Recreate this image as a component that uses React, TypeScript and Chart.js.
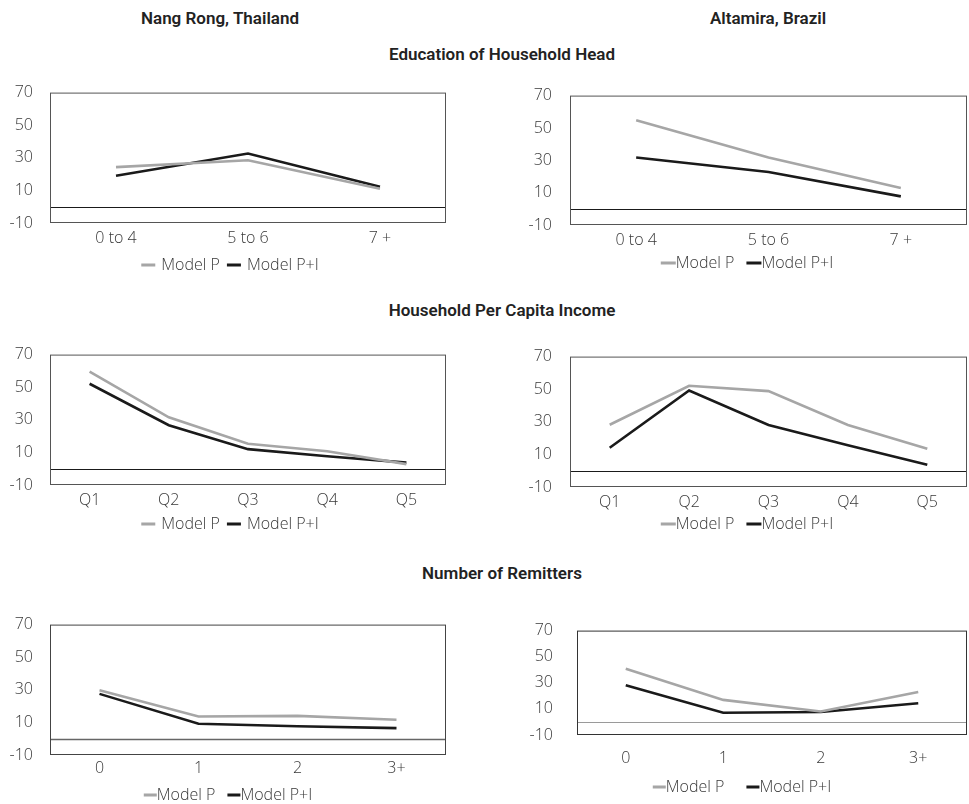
import React, { useEffect, useRef } from "react";
import { Chart, registerables } from "chart.js";
Chart.register(...registerables);

// ---------- data ----------
const eduCategories = ["0 to 4", "5 to 6", "7 +"];
const incomeCategories = ["Q1", "Q2", "Q3", "Q4", "Q5"];
const remitCategories = ["0", "1", "2", "3+"];
const yTicks = [-10, 10, 30, 50, 70];
const seriesLabels = ["Model P", "Model P+I"];

const nangRongEduP = [24.3, 28.5, 11];
const nangRongEduPI = [19, 32.6, 12.3];
const altamiraEduP = [54.7, 31.7, 12.9];
const altamiraEduPI = [31.7, 22.8, 7.7];

const nangRongIncP = [59.5, 31.5, 15.3, 10.7, 2.8];
const nangRongIncPI = [52.1, 26.7, 12, 7.6, 3.7];
const altamiraIncP = [28.2, 52.1, 48.8, 28, 13.4];
const altamiraIncPI = [14.1, 49.2, 28, 15.6, 3.7];

const nangRongRemP = [29.7, 13.6, 14, 11.6];
const nangRongRemPI = [27.5, 9.2, 7.6, 6.5];
const altamiraRemP = [40.8, 16.9, 8, 22.9];
const altamiraRemPI = [28.1, 7, 7.6, 14.3];

// ---------- styles ----------
const FONT = "'Open Sans', 'DejaVu Sans', sans-serif";
const TITLE_FONT = "Roboto, 'Open Sans', sans-serif";
const GRAY = "#a6a6a6";
const BLACK = "#1a1a1a";
const TEXT = "#383838";
const TICK_SIZE = 16;
const TICK_WEIGHT = 300;

type Leg = { cx: number; dy: number; line: number; gap: number; itemGap: number };
type Panel = {
  x0: number; w: number; yw: number; top: number; bottom: number;
  yPad: number; xPad: number; labels: string[]; p: number[]; pi: number[];
  zeroColor: string; zeroWidth: number; frameColor: string; leg: Leg;
};

const PAD_TOP = 12;
const XH = 30;
const EXTRA = 62;

function PanelChart({ cfg }: { cfg: Panel }) {
  const ref = useRef<HTMLCanvasElement>(null);
  const height = cfg.bottom - cfg.top + PAD_TOP + EXTRA;
  useEffect(() => {
    const canvas = ref.current!;
    const boxPlugin = {
      id: "boxZero",
      beforeDatasetsDraw(chart: any) {
        const { ctx, chartArea: a, scales } = chart;
        ctx.save();
        const y0 = Math.round(scales.y.getPixelForValue(0)) + 0.5;
        ctx.strokeStyle = cfg.zeroColor;
        ctx.lineWidth = cfg.zeroWidth;
        ctx.beginPath();
        ctx.moveTo(a.left, y0);
        ctx.lineTo(a.right, y0);
        ctx.stroke();
        ctx.strokeStyle = cfg.frameColor;
        ctx.lineWidth = 1;
        ctx.strokeRect(a.left + 0.5, a.top + 0.5, a.right - a.left - 1, a.bottom - a.top - 1);
        ctx.restore();
      },
    };
    const legendPlugin = {
      id: "lineLegend",
      afterDraw(chart: any) {
        const ctx = chart.ctx;
        ctx.save();
        ctx.font = `${TICK_WEIGHT} ${TICK_SIZE}px ${FONT}`;
        const items = chart.data.datasets.map((ds: any) => ({
          text: ds.label,
          color: ds.borderColor,
          w: ctx.measureText(ds.label).width,
        }));
        const L = cfg.leg;
        const total =
          items.reduce((s: number, it: any) => s + L.line + L.gap + it.w, 0) +
          L.itemGap * (items.length - 1);
        let x = L.cx - cfg.x0 - total / 2;
        const y = chart.chartArea.bottom + L.dy;
        items.forEach((it: any) => {
          ctx.fillStyle = it.color;
          ctx.fillRect(x, y - 1.5, L.line, 3);
          x += L.line + L.gap;
          ctx.fillStyle = TEXT;
          ctx.textBaseline = "middle";
          ctx.textAlign = "left";
          ctx.fillText(it.text, x, y);
          x += it.w + L.itemGap;
        });
        ctx.restore();
      },
    };
    const tickFont = { family: FONT, size: TICK_SIZE, weight: TICK_WEIGHT as any };
    const chart = new Chart(canvas, {
      type: "line",
      data: {
        labels: cfg.labels,
        datasets: [
          { label: seriesLabels[0], data: cfg.p, borderColor: GRAY, backgroundColor: GRAY, borderWidth: 2.6, pointRadius: 0, tension: 0 },
          { label: seriesLabels[1], data: cfg.pi, borderColor: BLACK, backgroundColor: BLACK, borderWidth: 2.6, pointRadius: 0, tension: 0 },
        ],
      },
      options: {
        animation: false,
        responsive: false,
        maintainAspectRatio: false,
        layout: { padding: { left: 0, top: PAD_TOP, right: 2, bottom: EXTRA - XH } },
        plugins: { legend: { display: false }, tooltip: { enabled: false }, title: { display: false } },
        scales: {
          x: {
            type: "category",
            offset: true,
            grid: { display: false, drawTicks: false },
            border: { display: false },
            ticks: { padding: cfg.xPad, color: TEXT, font: tickFont, maxRotation: 0 },
            afterFit: (s: any) => { s.height = XH; },
          },
          y: {
            min: -10,
            max: 70,
            grid: { display: false, drawTicks: false },
            border: { display: false },
            ticks: { padding: cfg.yPad, color: TEXT, font: tickFont },
            afterBuildTicks: (s: any) => { s.ticks = yTicks.map((v) => ({ value: v })); },
            afterFit: (s: any) => { s.width = cfg.yw; },
          },
        },
      },
      plugins: [boxPlugin, legendPlugin],
    });
    return () => chart.destroy();
  }, []);
  return (
    <canvas
      ref={ref}
      width={cfg.w}
      height={height}
      style={{ position: "absolute", left: cfg.x0, top: cfg.top - PAD_TOP, width: cfg.w, height }}
    />
  );
}

const legA = (cx: number, dy: number): Leg => ({ cx, dy, line: 14, gap: 6, itemGap: 7 });
const legB = (cx: number, dy: number): Leg => ({ cx, dy, line: 15, gap: 0, itemGap: 12 });

const panels: Panel[] = [
  { x0: 0, w: 448, yw: 50, top: 78, bottom: 223, yPad: 17, xPad: 6, labels: eduCategories, p: nangRongEduP, pi: nangRongEduPI, zeroColor: "#1a1a1a", zeroWidth: 1, frameColor: "#555", leg: legA(230, 42) },
  { x0: 480, w: 489, yw: 90, top: 80, bottom: 225, yPad: 18, xPad: 6, labels: eduCategories, p: altamiraEduP, pi: altamiraEduPI, zeroColor: "#1a1a1a", zeroWidth: 1, frameColor: "#555", leg: legB(747, 38) },
  { x0: 0, w: 448, yw: 50, top: 340, bottom: 485, yPad: 17, xPad: 6, labels: incomeCategories, p: nangRongIncP, pi: nangRongIncPI, zeroColor: "#1a1a1a", zeroWidth: 1, frameColor: "#555", leg: legA(230, 39) },
  { x0: 480, w: 489, yw: 90, top: 341, bottom: 487, yPad: 18, xPad: 6, labels: incomeCategories, p: altamiraIncP, pi: altamiraIncPI, zeroColor: "#1a1a1a", zeroWidth: 1, frameColor: "#555", leg: legB(747, 37) },
  { x0: 0, w: 448, yw: 50, top: 610, bottom: 755, yPad: 17, xPad: 4, labels: remitCategories, p: nangRongRemP, pi: nangRongRemPI, zeroColor: "#666", zeroWidth: 1.5, frameColor: "#444", leg: { cx: 228, dy: 40, line: 13, gap: 0, itemGap: 12 } },
  { x0: 480, w: 489, yw: 97, top: 609, bottom: 735, yPad: 24, xPad: 14, labels: remitCategories, p: altamiraRemP, pi: altamiraRemPI, zeroColor: "#9a9a9a", zeroWidth: 1, frameColor: "#333", leg: { cx: 742, dy: 52, line: 13, gap: 0, itemGap: 22 } },
];

const headers = [
  { text: "Nang Rong, Thailand", cx: 220, cy: 18 },
  { text: "Altamira, Brazil", cx: 768, cy: 18 },
  { text: "Education of Household Head", cx: 502, cy: 54 },
  { text: "Household Per Capita Income", cx: 502, cy: 310 },
  { text: "Number of Remitters", cx: 502, cy: 573 },
];

export default function App() {
  return (
    <div style={{ position: "absolute", left: 0, top: 0, width: 969, height: 804, background: "#fff", overflow: "hidden" }}>
      {headers.map((h, i) => (
        <div
          key={i}
          style={{
            position: "absolute", left: h.cx - 200, width: 400, top: h.cy - 11, height: 22, lineHeight: "22px",
            textAlign: "center", fontFamily: TITLE_FONT, fontWeight: 600, fontSize: 17, color: "#222",
          }}
        >
          {h.text}
        </div>
      ))}
      {panels.map((p, i) => (
        <PanelChart key={i} cfg={p} />
      ))}
    </div>
  );
}
